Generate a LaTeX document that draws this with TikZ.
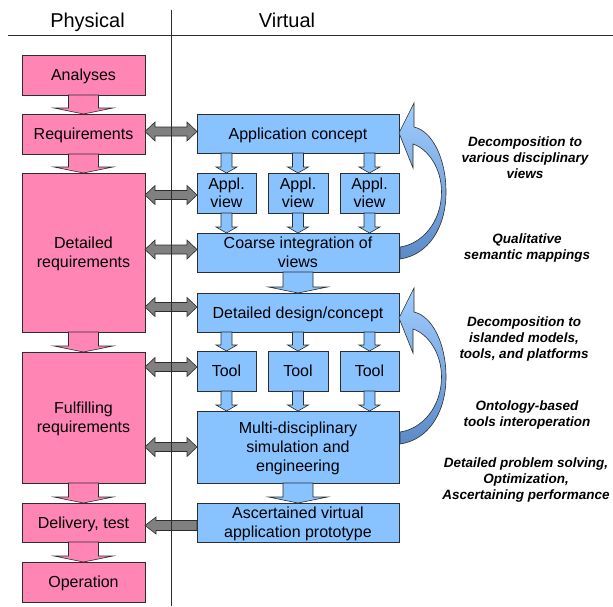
\documentclass[tikz,border=0pt]{standalone}
\usepackage{fontspec}
\setmainfont{Liberation Sans}
\usetikzlibrary{calc}
\definecolor{pinkc}{RGB}{255,133,181}
\definecolor{bluec}{RGB}{136,194,255}
\definecolor{greyc}{RGB}{128,128,128}
\definecolor{edgec}{RGB}{45,45,45}
\definecolor{curvetop}{RGB}{160,206,255}
\definecolor{curvebot}{RGB}{92,138,198}

\newcommand\blockdown[5]{\path[#1] let \p1=(#2), \p2=(#3) in
  (\x1-#4,\y1) -- (\x1+#4,\y1) -- (\x1+#4,\y2+6pt) -- (\x1+#5,\y2+6pt) -- (\x1,\y2)
  -- (\x1-#5,\y2+6pt) -- (\x1-#4,\y2+6pt) -- cycle;}
\newcommand\blockboth[3]{\path[#1] let \p1=(#2), \p2=(#3) in
  (\x1,\y1) -- (\x1+10pt,\y1+9.5pt) -- (\x1+10pt,\y1+4.5pt) -- (\x2-10pt,\y1+4.5pt)
  -- (\x2-10pt,\y1+9.5pt) -- (\x2,\y1) -- (\x2-10pt,\y1-9.5pt) -- (\x2-10pt,\y1-4.5pt)
  -- (\x1+10pt,\y1-4.5pt) -- (\x1+10pt,\y1-9.5pt) -- cycle;}
\newcommand\blockleft[3]{\path[#1] let \p1=(#2), \p2=(#3) in
  (\x1,\y1+5pt) -- (\x2+11pt,\y1+5pt) -- (\x2+11pt,\y1+8.5pt) -- (\x2,\y1)
  -- (\x2+11pt,\y1-8.5pt) -- (\x2+11pt,\y1-5pt) -- (\x1,\y1-5pt) -- cycle;}

\tikzset{
  box/.style={draw=edgec, line width=0.8pt, inner sep=0pt, outer sep=0pt, align=center,
    text depth=0pt, font=\fontsize{16}{19}\selectfont},
  pinkbox/.style={box, fill=pinkc, minimum width=123pt},
  bluebox/.style={box, fill=bluec},
  pinkarrow/.style={draw=edgec, line width=0.6pt, fill=pinkc},
  bluearrow/.style={draw=edgec, line width=0.6pt, fill=bluec},
  greyarrow/.style={draw=edgec, line width=0.6pt, fill=greyc},
  curvearrow/.style={draw=edgec, line width=0.6pt, top color=curvetop, bottom color=curvebot},
  header/.style={text depth=0pt, font=\fontsize{20}{24}\selectfont},
  note/.style={align=center, font=\fontsize{13.5}{16}\selectfont\bfseries\itshape}
}

\begin{document}
\begin{tikzpicture}[x=1pt,y=-1pt]
\useasboundingbox (0,0) rectangle (613,606);

% headers
\node[header] (phys) at (87.5,20) {Physical};
\node[header] (virt) at (287,20) {Virtual};

% physical column
\node[pinkbox, minimum height=40pt] (ana) at (83.5,75) {Analyses};
\node[pinkbox, minimum height=40pt] (req) at (83.5,134) {Requirements};
\node[pinkbox, minimum height=159pt] (detreq) at (83.5,252.5) {Detailed\\requirements};
\node[pinkbox, minimum height=131pt] (ful) at (83.5,417.5) {Fulfilling\\requirements};
\node[pinkbox, minimum height=39pt] (del) at (83.5,522.5) {Delivery, test};
\node[pinkbox, minimum height=40pt] (op) at (83.5,582) {Operation};

% virtual column
\node[bluebox, minimum width=202pt, minimum height=39pt] (app) at (298,133.5) {Application concept};
\node[bluebox, minimum width=59pt, minimum height=40pt, font=\fontsize{16}{18}\selectfont] (v1) at (226.5,193) {Appl.\\view};
\node[bluebox, minimum width=60pt, minimum height=40pt, font=\fontsize{16}{18}\selectfont] (v2) at (298,193) {Appl.\\view};
\node[bluebox, minimum width=59pt, minimum height=40pt, font=\fontsize{16}{18}\selectfont] (v3) at (369.5,193) {Appl.\\view};
\node[bluebox, minimum width=202pt, minimum height=39pt] (coarse) at (298,252.5) {Coarse integration of\\views};
\node[bluebox, minimum width=202pt, minimum height=39pt] (det) at (298,312.5) {Detailed design/concept};
\node[bluebox, minimum width=59pt, minimum height=40pt] (t1) at (226.5,371) {Tool};
\node[bluebox, minimum width=60pt, minimum height=40pt] (t2) at (298,371) {Tool};
\node[bluebox, minimum width=59pt, minimum height=40pt] (t3) at (369.5,371) {Tool};
\node[bluebox, minimum width=202pt, minimum height=72pt] (multi) at (298,447) {Multi-disciplinary\\simulation and\\engineering};
\node[bluebox, minimum width=202pt, minimum height=39pt] (asc) at (298,522.5) {Ascertained virtual\\application prototype};

% pink block arrows
\blockdown{pinkarrow}{ana.south}{req.north}{15pt}{29.5pt}
\blockdown{pinkarrow}{req.south}{detreq.north}{15pt}{29.5pt}
\blockdown{pinkarrow}{detreq.south}{ful.north}{15pt}{29.5pt}
\blockdown{pinkarrow}{ful.south}{del.north}{15pt}{29.5pt}
\blockdown{pinkarrow}{del.south}{op.north}{15pt}{29.5pt}

% blue block arrows
\blockdown{bluearrow}{v1.north |- app.south}{v1.north}{5.5pt}{10.5pt}
\blockdown{bluearrow}{v2.north |- app.south}{v2.north}{5.5pt}{10.5pt}
\blockdown{bluearrow}{v3.north |- app.south}{v3.north}{5.5pt}{10.5pt}
\blockdown{bluearrow}{v1.south}{v1.south |- coarse.north}{5.5pt}{10.5pt}
\blockdown{bluearrow}{v2.south}{v2.south |- coarse.north}{5.5pt}{10.5pt}
\blockdown{bluearrow}{v3.south}{v3.south |- coarse.north}{5.5pt}{10.5pt}
\blockdown{bluearrow}{coarse.south}{det.north}{15pt}{29.5pt}
\blockdown{bluearrow}{t1.north |- det.south}{t1.north}{5.5pt}{10.5pt}
\blockdown{bluearrow}{t2.north |- det.south}{t2.north}{5.5pt}{10.5pt}
\blockdown{bluearrow}{t3.north |- det.south}{t3.north}{5.5pt}{10.5pt}
\blockdown{bluearrow}{t1.south}{t1.south |- multi.north}{5.5pt}{10.5pt}
\blockdown{bluearrow}{t2.south}{t2.south |- multi.north}{5.5pt}{10.5pt}
\blockdown{bluearrow}{t3.south}{t3.south |- multi.north}{5.5pt}{10.5pt}
\blockdown{bluearrow}{multi.south}{asc.north}{15pt}{29.5pt}

% grey connectors
\coordinate (ya) at (0,131.5);
\coordinate (yb) at (0,195);
\coordinate (yc) at (0,249.5);
\coordinate (yd) at (0,307);
\coordinate (ye) at (0,367);
\coordinate (yf) at (0,447);
\coordinate (yg) at (0,525.5);
\blockboth{greyarrow}{req.east |- ya}{app.west |- ya}
\blockboth{greyarrow}{detreq.east |- yb}{v1.west |- yb}
\blockboth{greyarrow}{detreq.east |- yc}{coarse.west |- yc}
\blockboth{greyarrow}{detreq.east |- yd}{det.west |- yd}
\blockboth{greyarrow}{ful.east |- ye}{t1.west |- ye}
\blockboth{greyarrow}{ful.east |- yf}{multi.west |- yf}
\blockleft{greyarrow}{asc.west |- yg}{del.east |- yg}

% separator lines
\draw[edgec, line width=0.8pt] (8,35) -- (613,35);
\draw[edgec, line width=0.8pt] (171,10) -- (171,606);

% curved feedback arrows
\foreach \dy in {0,185}{
\path[curvearrow, shift={(0,\dy)}] (400,259) .. controls (428,255) and (446,228) .. (446,192)
  .. controls (446,158) and (432,131) .. (414,127) -- (414,103) -- (399,133) -- (413,168)
  -- (413,144) .. controls (428,149) and (441.5,168) .. (441.5,192)
  .. controls (441.5,222) and (422,244) .. (400,247) -- cycle;
}

% annotations
\node[note] (n1) at (525,158) {Decomposition to\\various disciplinary\\views};
\node[note] (n2) at (527,248) {Qualitative\\semantic mappings};
\node[note] (n3) at (524,339) {Decomposition to\\islanded models,\\tools, and platforms};
\node[note] (n4) at (527,415) {Ontology-based\\tools interoperation};
\node[note] (n5) at (526,480) {Detailed problem solving,\\Optimization,\\Ascertaining performance};
\end{tikzpicture}
\end{document}
